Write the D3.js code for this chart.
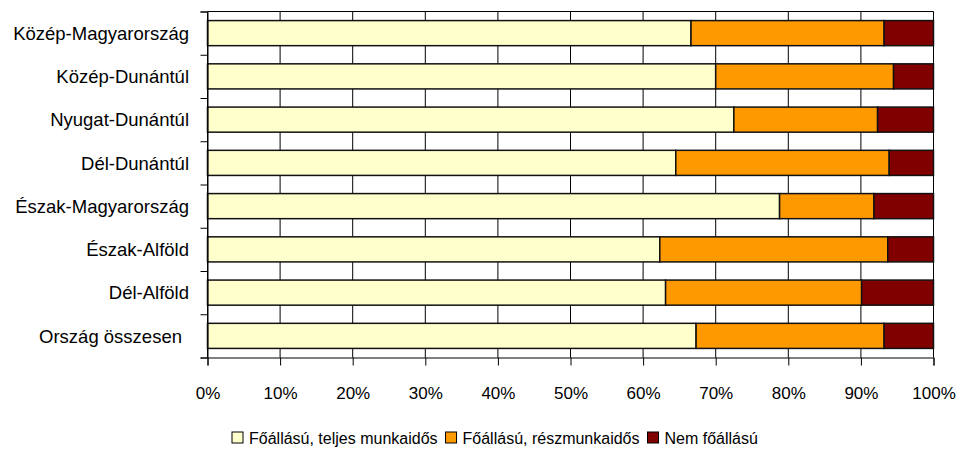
<!DOCTYPE html>
<html>
<head>
<meta charset="utf-8">
<script src="https://cdnjs.cloudflare.com/ajax/libs/d3/7.8.5/d3.min.js"></script>
<style>
  body { margin: 0; background: #fff; }
  svg { font-family: 'Liberation Sans', Arial, sans-serif; }
</style>
</head>
<body>
<svg></svg>
<script>
// data
var regions = ['Közép-Magyarország', 'Közép-Dunántúl', 'Nyugat-Dunántúl', 'Dél-Dunántúl',
               'Észak-Magyarország', 'Észak-Alföld', 'Dél-Alföld', 'Ország összesen'];
var fullTime = [66.6, 70.0, 72.5, 64.5, 78.8, 62.3, 63.1, 67.3];
var partTime = [26.6, 24.5, 19.8, 29.4, 13.0, 31.4, 27.0, 25.9];
var notMain  = [6.8, 5.5, 7.7, 6.1, 8.2, 6.3, 9.9, 6.8];
var seriesNames = ['Főállású, teljes munkaidős', 'Főállású, részmunkaidős', 'Nem főállású'];
var xTicks = [0, 10, 20, 30, 40, 50, 60, 70, 80, 90, 100];

var colors = ['#FFFFCC', '#FF9900', '#800000'];

var width = 959;
var height = 461;
var plotLeft = 207.5, plotRight = 933.5, plotTop = 11.5, plotBottom = 357.5;

var svg = d3.select('svg')
            .attr('width', width)
            .attr('height', height);

var rows = regions.map((r, i) => ({ region: r, v: [fullTime[i], partTime[i], notMain[i]] }));

var stack = d3.stack()
              .keys([0, 1, 2])
              .value((d, k) => d.v[k]);
var stacked = stack(rows);

var xScale = d3.scaleLinear()
               .domain([0, 100])
               .range([plotLeft, plotRight]);

var yScale = d3.scaleBand()
               .domain(regions)
               .range([plotTop, plotBottom])
               .paddingInner(0.42)
               .paddingOuter(0.21);

// boundaries between categories (for tick marks)
var yEdges = d3.scaleLinear()
               .domain([0, regions.length])
               .range([plotTop, plotBottom]);

// gridlines
svg.append('g')
   .selectAll('line')
   .data(xTicks)
   .enter()
   .append('line')
   .attr('x1', d => xScale(d))
   .attr('x2', d => xScale(d))
   .attr('y1', plotTop)
   .attr('y2', plotBottom)
   .attr('stroke', '#000')
   .attr('stroke-width', 1);

svg.append('line')
   .attr('x1', plotLeft).attr('x2', plotRight)
   .attr('y1', plotTop).attr('y2', plotTop)
   .attr('stroke', '#000');

// bars
svg.append('g')
   .selectAll('g')
   .data(stacked)
   .enter()
   .append('g')
   .attr('fill', (d, i) => colors[i])
   .selectAll('rect')
   .data(d => d)
   .enter()
   .append('rect')
   .attr('x', d => xScale(d[0]))
   .attr('y', d => yScale(d.data.region))
   .attr('width', d => xScale(d[1]) - xScale(d[0]))
   .attr('height', yScale.bandwidth())
   .attr('stroke', '#111')
   .attr('stroke-width', 1.5);

// axes
var xAxis = d3.axisBottom(xScale)
              .tickValues(xTicks)
              .tickSize(8)
              .tickPadding(21)
              .tickFormat(d => d + '%');

svg.append('g')
   .attr('id', 'x-axis')
   .attr('transform', 'translate(0,' + plotBottom + ')')
   .call(xAxis)
   .call(g => g.select('.domain').attr('stroke', '#000'))
   .call(g => g.selectAll('text').attr('font-size', 17).attr('fill', '#000'))
   .attr('font-family', null);

var yAxis = d3.axisLeft(yEdges)
              .tickValues(d3.range(regions.length + 1))
              .tickSize(7)
              .tickFormat('');

svg.append('g')
   .attr('id', 'y-axis')
   .attr('transform', 'translate(' + plotLeft + ',0)')
   .call(yAxis);

svg.append('g')
   .selectAll('text')
   .data(regions)
   .enter()
   .append('text')
   .attr('x', (d, i) => i === regions.length - 1 ? 182 : 189)
   .attr('y', d => yScale(d) + yScale.bandwidth() / 2)
   .attr('dy', '0.36em')
   .attr('text-anchor', 'end')
   .attr('font-size', 18.5)
   .attr('fill', '#000')
   .text(d => d);

// legend
var legend = svg.append('g').attr('id', 'legend');
var lx = 232;
seriesNames.forEach((name, i) => {
    legend.append('rect')
          .attr('x', lx)
          .attr('y', 432)
          .attr('width', 11)
          .attr('height', 11)
          .attr('fill', colors[i])
          .attr('stroke', '#000')
          .attr('stroke-width', 1);
    var t = legend.append('text')
                  .attr('x', lx + 17)
                  .attr('y', 443.5)
                  .attr('font-size', 16)
                  .attr('fill', '#000')
                  .text(name);
    lx += 17 + t.node().getComputedTextLength() + 8;
});
</script>
</body>
</html>
